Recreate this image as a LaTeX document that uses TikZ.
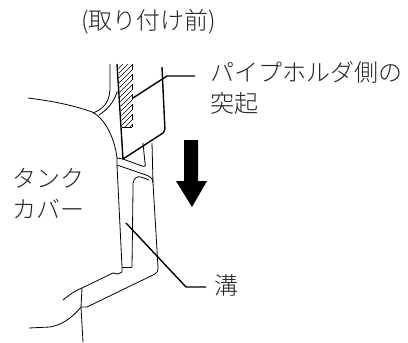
\documentclass[tikz,border=0pt]{standalone}
\usepackage{fontspec}
\setmainfont[UprightFont={* Light}]{Noto Sans CJK JP}
\usetikzlibrary{calc,positioning}

\begin{document}
\begin{tikzpicture}[x=1pt,y=-1pt]
    \tikzset{thinline/.style = {line width=0.8pt, black},
      thickline/.style = {line width=1.4pt, line join=round},
      LabelStyle/.style = {font=\fontsize{24}{31}\selectfont, inner sep=0pt, black!85, align=left}}
    \useasboundingbox (0,0) rectangle (408,343);
    % corner points of the protrusion
    \coordinate (T) at (117,64);
    \coordinate (B) at (123,159);
    \coordinate (H) at (122,127);
    \coordinate (P) at (133,98);
    \coordinate (G) at (126,223);
    % hatching
    \begin{scope}
      \clip (118,64) -- (132,64) -- (132,127) -- (122,127) -- cycle;
      \foreach \i in {0,5,...,85}
        \draw[line width=0.7pt] (112,{60+\i}) -- (140,{32+\i});
    \end{scope}
    \draw[line width=1pt] (H) -- (132,127);
    \draw[line width=1.5pt, dash pattern=on 6pt off 4pt] (132.5,64) -- (132.5,127);
    % protrusion
    \draw[thickline] (T) -- (B) -- (163,133) [rounded corners=2pt] -- (165,131) -- (162,67);
    % tank cover
    \draw[thinline] (28,98) .. controls (60,102) and (78,107) .. (92,112)
      .. controls (106,119) and (115,140) .. (117,158) -- (B);
    \draw[thinline] (110,64) -- (110,90) .. controls (109,103) and (103,109) .. (93,113);
    \draw[thinline] (120,92) -- (117,92) .. controls (114,102) and (108,109) .. (99,115);
    \draw[thinline] (117,158) -- (117,165) -- (122,267) -- (122,272) -- (118,274) -- (113,273) -- (82,288)
      .. controls (74,291) and (68,296) .. (63,300);
    \draw[thinline] (117,165) -- (143,174);
    \draw[thinline] (B) -- (142,166) .. controls (145,167) and (146,166) .. (145,163) -- (143,143);
    \draw[thinline] (152,143) -- (153,183) -- (158,267) .. controls (158,271) and (157,273) .. (155,274) -- (87,307) -- (81,307);
    \draw[thinline] (143,174) .. controls (150,176) and (153,178) .. (153,183);
    \draw[thinline] (132,267) -- (133,190) -- (133,183) .. controls (134,178) and (137,176) .. (141,177) -- (149,180);
    \draw[thinline] (122,267) -- (132,267);
    \draw[thinline] (82,288) -- (81,307) -- (83,342);
    \draw[thinline] (81,307) .. controls (72,318) and (62,325) .. (50,327) -- (29,328);
    % arrow
    \fill (184,140) -- (198,140) -- (198,181) -- (207,181) -- (192,207) -- (176,181) -- (184,181) -- cycle;
    % labels
    \node[LabelStyle,anchor=west] (title) at (81,22) {(取り付け前)};
    \node[LabelStyle,anchor=north west,text width=200pt] (proj) at (210,61) {パイプホルダ側の\\突起};
    \node[LabelStyle,anchor=north west] (cover) at (12,168) {タンク\\カバー};
    \node[LabelStyle,anchor=west] (groove) at (214,285) {溝};
    % leaders
    \coordinate (k1) at (167,76);
    \coordinate (k2) at (186,287);
    \draw[thickline] (P) -- (k1) -- (195,76);
    \draw[thickline] (G) -- (k2) -- (206,287);
\end{tikzpicture}
\end{document}
